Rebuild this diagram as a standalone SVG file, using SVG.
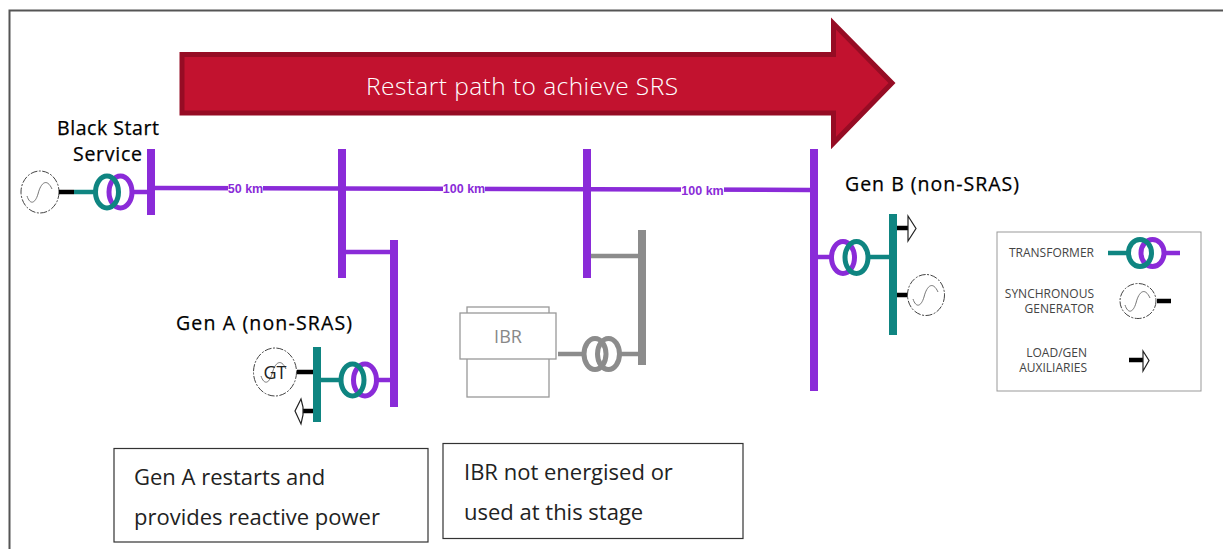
<svg xmlns="http://www.w3.org/2000/svg" width="1223" height="549" viewBox="0 0 1223 549">
<style>
text{font-family:"Open Sans","Noto Sans","Liberation Sans",sans-serif}
.p{stroke:#8a2bd8;fill:none}
.t{stroke:#0f8581;fill:none}
.g{stroke:#8c8c8c;fill:none}
.k{stroke:#000;fill:none}
.bar{stroke-width:8}
.ln{stroke-width:4.500}
.ring{stroke-width:5}
.gen{fill:#fff;stroke:#444;stroke-width:1;stroke-dasharray:7 1.5 2 1.5}
.sine{fill:none;stroke:#777;stroke-width:1}
.lbl{font-size:19.500px;fill:#000;stroke:#000;stroke-width:.25}
.km{font-family:"Liberation Sans",sans-serif;font-size:12.500px;font-weight:700;fill:#8a2bd8;text-anchor:middle}
.leg{font-size:12px;fill:#444;text-anchor:end}
.note{font-size:22px;fill:#222}
.box{fill:#fff;stroke:#333;stroke-width:1.2}
.head{fill:#fff;stroke:#222;stroke-width:1.2}
</style>
<defs>
<g id="sine"><path class="sine" d="M-13 4C-10 13 -5 12 -2 2C1 -10 7 -14 12 -3"/></g>
</defs>
<rect x="9.500" y="10.500" width="1225" height="560" fill="#fff" stroke="#555" stroke-width="2"/>
<g id="restart-arrow">
<path d="M182 54.500H833.500V23.500L892 83L833.500 143V113H182Z" fill="#c2122f" stroke="#960c24" stroke-width="5"/>
<text x="522" y="95" text-anchor="middle" font-size="24.500" fill="#fff" textLength="312" style="font-weight:300">Restart path to achieve SRS</text>
</g>
<g id="connectors">
<path class="p ln" d="M155 188L810 190"/>
<path class="p ln" d="M346 252H390"/>
<path class="g ln" d="M591 256H638"/>
<path class="p ln" d="M134 192H148"/>
<path class="p ln" d="M378 380H391"/>
<path class="p ln" d="M818 257H830"/>
<path class="g ln" d="M558 354H583M621 354H638"/>
</g>
<g id="km-50"><rect x="228" y="182" width="35" height="12" fill="#fff"/><text class="km" x="245.500" y="192.500">50 km</text></g>
<g id="km-100a"><rect x="443" y="182" width="42" height="12" fill="#fff"/><text class="km" x="464" y="192.500">100 km</text></g>
<g id="km-100b"><rect x="681" y="184" width="43" height="12" fill="#fff"/><text class="km" x="702.500" y="194.500">100 km</text></g>
<g id="bus-1"><path class="p bar" d="M151 149V215"/></g>
<g id="bus-2"><path class="p bar" d="M342 149V278"/></g>
<g id="bus-3"><path class="p bar" d="M394 240V407"/></g>
<g id="bus-4"><path class="p bar" d="M587 149V278"/></g>
<g id="bus-5"><path class="g bar" d="M642 230V365"/></g>
<g id="bus-6"><path class="p bar" d="M814 149V391"/></g>
<g id="black-start">
<text class="lbl" x="57" y="135" textLength="102">Black Start</text>
<text class="lbl" x="73" y="161" textLength="69">Service</text>
<ellipse class="gen" cx="40" cy="192" rx="19" ry="21"/><use href="#sine" x="40" y="192"/>
<path class="k ln" d="M59 192H74"/><path class="t ln" d="M74 192H94"/>
<ellipse class="p ring" cx="120.500" cy="192" rx="11.500" ry="16"/>
<ellipse class="t ring" cx="107" cy="192" rx="11.500" ry="16"/>
</g>
<g id="gen-a">
<text class="lbl" x="176" y="330" textLength="176">Gen A (non-SRAS)</text>
<ellipse class="gen" cx="275" cy="372" rx="21.500" ry="24"/><use href="#sine" x="274" y="372"/>
<text x="275" y="379" text-anchor="middle" font-size="18" fill="#222">GT</text>
<path class="k ln" d="M297 372H313M303 411H313"/>
<path class="head" d="M303 407V415L301 424L295 411L301 399Z"/>
<path class="t bar" d="M317 347V422"/>
<path class="t ln" d="M321 380H340"/>
<ellipse class="p ring" cx="365" cy="380" rx="11.500" ry="16"/>
<ellipse class="t ring" cx="352.500" cy="380" rx="11.500" ry="16"/>
</g>
<g id="ibr">
<rect x="467" y="307" width="82" height="90" fill="#fff" stroke="#999" stroke-width="1.300"/>
<rect x="460" y="313" width="96" height="46" fill="#fff" stroke="#999" stroke-width="1.300"/>
<text x="508" y="343" text-anchor="middle" font-size="18" fill="#888">IBR</text>
<ellipse class="g ring" cx="595" cy="354" rx="11" ry="15.500"/>
<ellipse class="g ring" cx="608.500" cy="354" rx="11" ry="15.500"/>
</g>
<g id="gen-b">
<text class="lbl" x="845" y="191" textLength="174">Gen B (non-SRAS)</text>
<ellipse class="p ring" cx="843" cy="257.500" rx="11.500" ry="16"/>
<ellipse class="t ring" cx="856.500" cy="257.500" rx="11.500" ry="16"/>
<path class="t ln" d="M870 257H889"/>
<path class="t bar" d="M893 214V335"/>
<path class="k ln" d="M897 228H908M897 295H908"/>
<path class="head" d="M908 224V216L916 228.500L908 241V232Z"/>
<ellipse class="gen" cx="926" cy="295" rx="18.500" ry="20.500"/><use href="#sine" x="926" y="295"/>
</g>
<g id="legend">
<rect x="997" y="232" width="204" height="159" fill="#fff" stroke="#999" stroke-width="1"/>
<text class="leg" x="1094" y="257">TRANSFORMER</text>
<text class="leg" x="1094" y="298">SYNCHRONOUS</text>
<text class="leg" x="1094" y="313">GENERATOR</text>
<text class="leg" x="1087" y="357">LOAD/GEN</text>
<text class="leg" x="1087" y="372">AUXILIARIES</text>
<path class="t ln" d="M1108 253H1128"/><path class="p ln" d="M1165 253H1180"/>
<ellipse class="p ring" cx="1152.500" cy="253" rx="11.500" ry="13.500"/>
<ellipse class="t ring" cx="1140" cy="253" rx="11.500" ry="13.500"/>
<ellipse class="gen" cx="1138" cy="301" rx="18" ry="17.500"/><use href="#sine" x="1138" y="301"/>
<path class="k ln" d="M1157 301H1171M1129 360H1143"/>
<path class="head" d="M1143 356V351L1149 360.500L1143 371V364Z"/>
</g>
<g id="note-gen-a">
<rect class="box" x="114" y="448.500" width="314" height="93.500"/>
<text class="note" x="134" y="485">Gen A restarts and</text>
<text class="note" x="134" y="525">provides reactive power</text>
</g>
<g id="note-ibr">
<rect class="box" x="443" y="443.500" width="300" height="95"/>
<text class="note" x="464" y="480">IBR not energised or</text>
<text class="note" x="464" y="520">used at this stage</text>
</g>
</svg>
